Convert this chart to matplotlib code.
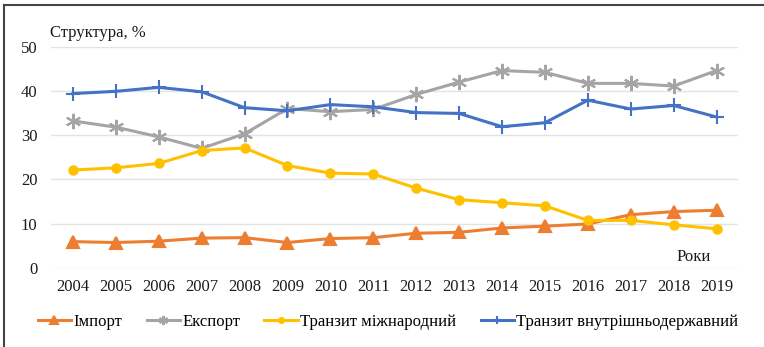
import numpy as np
import matplotlib
matplotlib.use("Agg")
import matplotlib.pyplot as plt
from matplotlib.lines import Line2D

plt.rcParams['font.family'] = 'serif'
plt.rcParams['font.serif'] = ['Liberation Serif', 'DejaVu Serif']

years = [str(y) for y in range(2004, 2020)]
import_share = [5.9, 5.7, 6.0, 6.7, 6.8, 5.7, 6.6, 6.8, 7.8, 8.0, 9.0, 9.4, 9.9, 12.0, 12.7, 13.0]
export_share = [33.2, 31.8, 29.6, 27.0, 30.3, 36.0, 35.3, 35.8, 39.2, 42.0, 44.6, 44.2, 41.7, 41.7, 41.1, 44.6]
transit_intl = [22.1, 22.6, 23.6, 26.5, 27.1, 23.1, 21.4, 21.2, 18.0, 15.4, 14.7, 14.0, 10.7, 10.7, 9.7, 8.8]
transit_domestic = [39.4, 39.9, 40.8, 39.8, 36.2, 35.5, 36.9, 36.4, 35.1, 34.9, 31.9, 32.8, 37.9, 35.9, 36.7, 34.1]

series = [
    ("Імпорт", import_share, "#ED7D31", "^", 9),
    ("Експорт", export_share, "#A5A5A5", (6, 2, 0), 11),
    ("Транзит міжнародний", transit_intl, "#FFC000", "o", 6),
    ("Транзит внутрішньодержавний", transit_domestic, "#4472C4", "+", 10),
]

fig = plt.figure(figsize=(7.64, 3.47), dpi=100)
ax = fig.add_axes([0.0674, 0.2285, 0.8986, 0.6369])

x = np.arange(len(years))
handles = []
for name, vals, color, marker, ms in series:
    h, = ax.plot(x, vals, color=color, lw=2.2, marker=marker, ms=ms,
                 mew=1.5, mfc=color, mec=color, label=name)
    handles.append(h)

ax.set_xlim(-0.5, len(years) - 0.5)
ax.set_ylim(0, 50)
ax.set_yticks(range(0, 51, 10))
ax.set_xticks(x)
ax.set_xticklabels(years)
ax.tick_params(length=0, labelsize=12, colors="#1a1a1a")
ax.tick_params(axis="y", pad=10)
ax.tick_params(axis="x", pad=8)
ax.grid(axis="y", color="#E3E3E3", lw=1)
ax.set_axisbelow(True)
for s in ax.spines.values():
    s.set_visible(False)

fig.text(0.066, 0.905, "Структура, %", fontsize=12, color="#1a1a1a",
         ha="left", va="center")
ax.text(0.935, 0.048, "Роки", transform=ax.transAxes, fontsize=12,
        color="#1a1a1a", ha="center", va="center")

fig.legend(handles=handles, loc="center", bbox_to_anchor=(0.508, 0.072),
           ncol=4, frameon=False, fontsize=12, handlelength=2.0,
           handletextpad=0.15, columnspacing=1.45, markerscale=0.6)

# frame on the top and left edge
fig.add_artist(Line2D([0.005, 0.005], [0, 0.985], transform=fig.transFigure,
                      color="#444444", lw=1.5))
fig.add_artist(Line2D([0.005, 1.0], [0.985, 0.985], transform=fig.transFigure,
                      color="#444444", lw=1.5))

fig.savefig("out.png", dpi=100)
